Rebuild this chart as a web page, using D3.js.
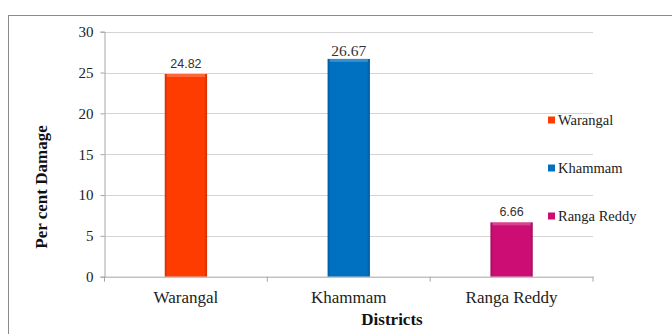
<!DOCTYPE html>
<html><head><meta charset="utf-8">
<script src="https://cdn.jsdelivr.net/npm/d3@7"></script>
<style>html,body{margin:0;padding:0;background:#fff;}svg{display:block;}
.serif{font-family:"Liberation Serif","Times New Roman",Tinos,"DejaVu Serif",serif;}
.sans{font-family:"Liberation Sans",Arial,sans-serif;}
</style>
</head><body>
<svg id="c" width="672" height="334"></svg>
<script>
const categories = ["Warangal", "Khammam", "Ranga Reddy"];
const values = [24.82, 26.67, 6.66];
const valueLabels = ["24.82", "26.67", "6.66"];
const yTicks = [0, 5, 10, 15, 20, 25, 30];
const colors = ["#FF3C00", "#0070C0", "#CC0E74"];

(function () {
const svg = d3.select("#c");

// outer frame
svg.append("rect").attr("x", 8.5).attr("y", 15.5).attr("width", 700).attr("height", 400)
  .attr("fill", "#fff").attr("stroke", "#8a8a8a").attr("stroke-width", 1);

const pL = 104.5, pR = 593, pT = 31.7, pB = 276.7;
const x = d3.scaleBand().domain(categories).range([pL, pR]).paddingInner(0.74).paddingOuter(0.37);
const xb = d3.scaleBand().domain(categories).range([pL, pR]);
const y = d3.scaleLinear().domain([0, 30]).range([pB, pT]);

// gradients
const defs = svg.append("defs");
colors.forEach((c, i) => {
  const g = defs.append("linearGradient").attr("id", "g" + i).attr("x1", 0).attr("x2", 1).attr("y1", 0).attr("y2", 0);
  const dk = d3.color(c).darker(0.6);
  g.append("stop").attr("offset", 0).attr("stop-color", dk);
  g.append("stop").attr("offset", 0.07).attr("stop-color", c);
  g.append("stop").attr("offset", 0.93).attr("stop-color", c);
  g.append("stop").attr("offset", 1).attr("stop-color", dk);
});

// gridlines
svg.append("g").selectAll("line").data(yTicks.filter(t => t > 0)).join("line")
  .attr("x1", pL).attr("x2", pR).attr("y1", d => Math.round(y(d)) + 0.5).attr("y2", d => Math.round(y(d)) + 0.5)
  .attr("stroke", "#d4d4d4").attr("stroke-width", 1);

// y axis
const yAxis = svg.append("g").attr("transform", `translate(${pL},0)`)
  .call(d3.axisLeft(y).tickValues(yTicks).tickSize(4).tickPadding(7).tickFormat(d3.format("d")));
yAxis.attr("font-family", null);
yAxis.select(".domain").attr("stroke", "#a6a6a6");
yAxis.selectAll(".tick line").attr("stroke", "#a6a6a6");
yAxis.selectAll("text").attr("class", "serif").style("font-size", "15px").attr("fill", "#222");

// bars
svg.append("g").selectAll("rect").data(categories).join("rect")
  .attr("x", d => x(d)).attr("width", x.bandwidth())
  .attr("y", (d, i) => y(values[i])).attr("height", (d, i) => y(0) - y(values[i]))
  .attr("fill", (d, i) => `url(#g${i})`);
// top bevel highlight
svg.append("g").selectAll("rect").data(categories).join("rect")
  .attr("x", d => x(d) + 2).attr("width", x.bandwidth() - 4)
  .attr("y", (d, i) => y(values[i])).attr("height", 3)
  .attr("fill", "#fff").attr("opacity", 0.22);

// x axis
const xAxis = svg.append("g").attr("transform", `translate(0,${pB})`)
  .call(d3.axisBottom(xb).tickSize(0).tickPadding(14));
xAxis.attr("font-family", null);
xAxis.select(".domain").attr("stroke", "#a6a6a6");
xAxis.selectAll("text").attr("class", "serif").style("font-size", "17px").attr("fill", "#222");
// category separator ticks
const seps = [pL, ...categories.map(c => xb(c) + xb.bandwidth())];
svg.append("g").selectAll("line").data(seps).join("line")
  .attr("x1", d => d).attr("x2", d => d).attr("y1", pB).attr("y2", pB + 5)
  .attr("stroke", "#a6a6a6");

// value labels
svg.append("g").selectAll("text").data(categories).join("text")
  .attr("x", d => x(d) + x.bandwidth() / 2)
  .attr("y", (d, i) => y(values[i]) - (i === 1 ? 3 : 6))
  .attr("text-anchor", "middle")
  .attr("class", (d, i) => i === 1 ? "serif" : "sans")
  .style("font-size", (d, i) => i === 1 ? "15.5px" : "12.5px")
  .attr("fill", "#333")
  .text((d, i) => valueLabels[i]);

// axis titles
svg.append("text").attr("x", 392).attr("y", 325).attr("text-anchor", "middle")
  .attr("class", "serif").style("font-weight", "bold").style("font-size", "17px").attr("fill", "#111")
  .text("Districts");
svg.append("text").attr("transform", "translate(47,187) rotate(-90)").attr("text-anchor", "middle")
  .attr("class", "serif").style("font-weight", "bold").style("font-size", "17px").attr("fill", "#111")
  .text("Per cent Damage");

// legend
const leg = svg.append("g").selectAll("g").data(categories).join("g")
  .attr("transform", (d, i) => `translate(548,${120 + i * 48})`);
leg.append("rect").attr("x", 0).attr("y", -3.5).attr("width", 7).attr("height", 7)
  .attr("fill", (d, i) => colors[i]);
leg.append("text").attr("x", 10).attr("y", 5).attr("class", "serif").style("font-size", "14.5px")
  .attr("fill", "#222").text(d => d);
})();
</script>
</body></html>
